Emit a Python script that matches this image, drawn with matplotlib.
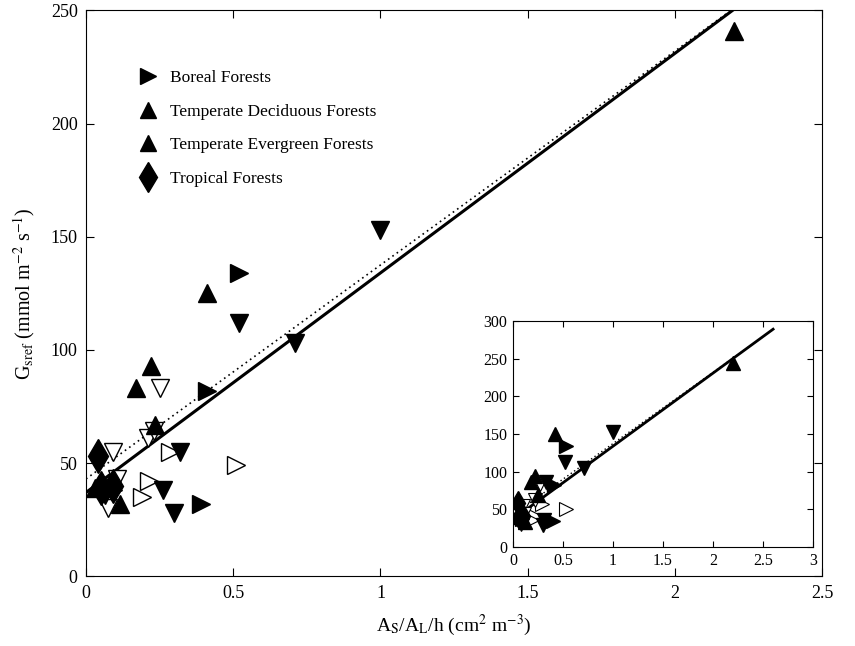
import numpy as np
import matplotlib
matplotlib.use("Agg")
import matplotlib.pyplot as plt
from matplotlib.lines import Line2D

plt.rcParams['font.family'] = ['Liberation Serif', 'DejaVu Serif']
plt.rcParams['mathtext.fontset'] = 'stix'

# main panel data
boreal_x = [0.52, 0.41, 0.39, 0.09]
boreal_y = [134, 82, 32, 38]
decid_x = [2.2, 0.41, 0.22, 0.17, 0.235, 0.115, 0.03]
decid_y = [241, 125, 93, 83, 67, 32, 39]
everg_x = [1.0, 0.52, 0.71, 0.32, 0.26, 0.30, 0.065]
everg_y = [153, 112, 103, 55, 38, 28, 36]
trop_x = [0.04, 0.05, 0.09]
trop_y = [53, 39, 40]
open_right_x = [0.285, 0.51, 0.215, 0.19]
open_right_y = [55, 49, 42, 35]
open_down_x = [0.25, 0.21, 0.23, 0.09, 0.105, 0.075]
open_down_y = [83, 61, 64, 55, 43, 30]

# inset data
in_boreal_x = [0.53, 0.41, 0.40, 0.09]
in_boreal_y = [134, 83, 35, 38]
in_decid_x = [2.2, 0.42, 0.22, 0.18, 0.25, 0.12, 0.04]
in_decid_y = [244, 150, 95, 86, 69, 34, 40]
in_everg_x = [1.0, 0.52, 0.71, 0.33, 0.31, 0.30, 0.07]
in_everg_y = [153, 113, 105, 86, 36, 29, 36]
in_trop_x = [0.05, 0.06, 0.10]
in_trop_y = [59, 40, 41]
in_open_right_x = [0.29, 0.53, 0.22, 0.19]
in_open_right_y = [57, 50, 42, 36]
in_open_down_x = [0.27, 0.22, 0.10, 0.11, 0.08]
in_open_down_y = [84, 63, 55, 44, 31]

# fitted lines
fit_a, fit_b = 37, 97
fit2_a, fit2_b = 43, 94.5

fig = plt.figure(figsize=(8.55, 6.46), dpi=100)
ax = fig.add_axes([0.1006, 0.108, 0.861, 0.876])

xx = np.array([0, 2.6])
ax.plot(xx, fit2_a + fit2_b * xx, color='k', lw=1.2, linestyle=(0, (1, 2.2)))
ax.plot(xx, fit_a + fit_b * xx, color='k', lw=2.2)

ms = 13
ax.plot(open_right_x, open_right_y, '>', ms=ms, mfc='white', mec='k', mew=1, ls='none')
ax.plot(open_down_x, open_down_y, 'v', ms=ms, mfc='white', mec='k', mew=1, ls='none')
ax.plot(boreal_x, boreal_y, '>', ms=ms, color='k', ls='none')
ax.plot(decid_x, decid_y, '^', ms=ms, color='k', ls='none')
ax.plot(everg_x, everg_y, 'v', ms=ms, color='k', ls='none')
ax.plot(trop_x, trop_y, 'd', ms=17, color='k', ls='none')

ax.set_xlim(0, 2.5)
ax.set_ylim(0, 250)
ax.set_xticks([0, 0.5, 1, 1.5, 2, 2.5])
ax.set_xticklabels(['0', '0.5', '1', '1.5', '2', '2.5'])
ax.set_yticks([0, 50, 100, 150, 200, 250])
ax.tick_params(direction='in', top=True, right=True, labelsize=13, length=6, pad=6)
ax.set_xlabel(r'A$_{\mathrm{S}}$/A$_{\mathrm{L}}$/h (cm$^{2}$ m$^{-3}$)', fontsize=14, labelpad=8)
ax.set_ylabel(r'G$_{\mathrm{sref}}$ (mmol m$^{-2}$ s$^{-1}$)', fontsize=14.5, labelpad=10)

# legend as in the original (evergreen shown with an up triangle)
handles = [
    Line2D([], [], marker='>', color='k', ls='none', ms=12),
    Line2D([], [], marker='^', color='k', ls='none', ms=12),
    Line2D([], [], marker='^', color='k', ls='none', ms=12),
    Line2D([], [], marker='d', color='k', ls='none', ms=15),
]
labels = ['Boreal Forests', 'Temperate Deciduous Forests',
          'Temperate Evergreen Forests', 'Tropical Forests']
ax.legend(handles, labels, loc='upper left', bbox_to_anchor=(0.049, 0.922),
          frameon=False, fontsize=12.5, labelspacing=1.0, handletextpad=0.65,
          handlelength=1.2)

# inset
ins = fig.add_axes([0.600, 0.153, 0.351, 0.350])
xi = np.array([0, 2.6])
ins.plot(xi, fit2_a + fit2_b * xi, color='k', lw=1, linestyle=(0, (1, 2)))
ins.plot(xi, fit_a + fit_b * xi, color='k', lw=2)
mi = 10
ins.plot(in_open_right_x, in_open_right_y, '>', ms=mi, mfc='white', mec='k', mew=0.8, ls='none')
ins.plot(in_open_down_x, in_open_down_y, 'v', ms=mi, mfc='white', mec='k', mew=0.8, ls='none')
ins.plot(in_boreal_x, in_boreal_y, '>', ms=mi, color='k', ls='none')
ins.plot(in_decid_x, in_decid_y, '^', ms=mi, color='k', ls='none')
ins.plot(in_everg_x, in_everg_y, 'v', ms=mi, color='k', ls='none')
ins.plot(in_trop_x, in_trop_y, 'd', ms=mi + 2, color='k', ls='none')
ins.set_xlim(0, 3)
ins.set_ylim(0, 300)
ins.set_xticks([0, 0.5, 1, 1.5, 2, 2.5, 3])
ins.set_xticklabels(['0', '0.5', '1', '1.5', '2', '2.5', '3'])
ins.set_yticks([0, 50, 100, 150, 200, 250, 300])
ins.tick_params(direction='in', top=True, right=True, labelsize=11.5, length=4, pad=4)

fig.savefig('out.png', dpi=100)
